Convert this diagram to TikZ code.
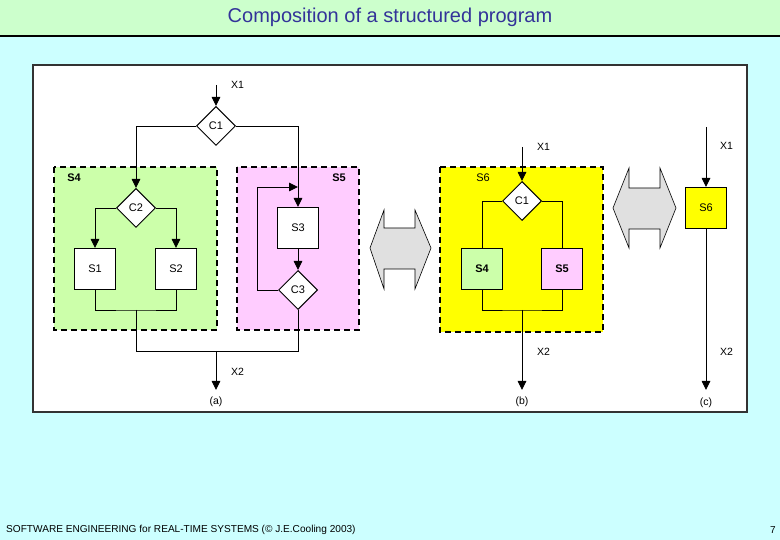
\documentclass[tikz,border=0pt]{standalone}
\usepackage{fontspec}
\setmainfont{Liberation Sans}
\usetikzlibrary{shapes.geometric,arrows.meta}
\definecolor{bandgreen}{RGB}{204,255,204}
\definecolor{bgcyan}{RGB}{204,255,255}
\definecolor{titleblue}{RGB}{51,51,153}
\definecolor{boxgreen}{RGB}{204,255,170}
\definecolor{boxpink}{RGB}{255,204,255}
\definecolor{boxyellow}{RGB}{255,255,0}
\definecolor{arrowgray}{RGB}{224,224,224}
\begin{document}
\begin{tikzpicture}[x=1pt,y=-1pt,
  proc/.style={draw,fill=white,line width=1pt,minimum size=41pt,inner sep=0pt,font=\fontsize{11}{13}\selectfont},
  dec/.style={draw,fill=white,diamond,line width=1pt,minimum size=39pt,inner sep=0pt,font=\fontsize{11}{13}\selectfont},
  region/.style={line width=1.3pt,dash pattern=on 6pt off 4pt},
  conn/.style={line width=0.9pt},
  arr/.style={conn,-{Triangle[length=9pt,width=8.5pt]}},
  lbl/.style={font=\fontsize{10.5}{12}\selectfont,inner sep=0pt},
  blk/.style={draw,fill=arrowgray,line width=0.6pt,line join=miter}
]
\useasboundingbox (0,0) rectangle (780,540);
% background
\fill[bgcyan] (0,0) rectangle (780,540);
\fill[bandgreen] (0,0) rectangle (780,36);
\draw[line width=2pt] (0,36) -- (780,36);
\node[text=titleblue,font=\fontsize{20}{24}\selectfont] (title) at (390,17.5) {Composition of a structured program};
\draw[line width=1.5pt,draw=black!80,fill=white] (33,65) rectangle (747,412);
% footer
\node[anchor=west,font=\fontsize{10.1}{11}\selectfont,inner sep=0pt] (foot) at (6,530) {SOFTWARE ENGINEERING for REAL-TIME SYSTEMS (\textcopyright{} J.E.Cooling 2003)};
\node[anchor=east,font=\fontsize{10}{11}\selectfont,inner sep=0pt] (pg) at (776,530) {7};

% ---------------- (a) ----------------
\draw[region,fill=boxgreen] (54,167) rectangle (217,330);
\draw[region,fill=boxpink] (237,167) rectangle (359,330);
\node[lbl,font=\fontsize{11}{13}\selectfont\bfseries] (lS4) at (74,178) {S4};
\node[lbl,font=\fontsize{11}{13}\selectfont\bfseries] (lS5) at (339,178) {S5};

\node[dec] (C1) at (216,126) {C1};
\node[dec] (C2) at (136,208) {C2};
\node[proc] (S1) at (95,269) {S1};
\node[proc] (S2) at (176,269) {S2};
\node[proc] (S3) at (298,228) {S3};
\node[dec] (C3) at (298,290) {C3};

\coordinate (x1a) at (216,85);
\coordinate (ja) at (136,310);
\coordinate (jb) at (136,351);
\coordinate (jc) at (216,351);
\coordinate (enda) at (216,390);
\coordinate (lp) at (257,187);

\draw[arr] (x1a) -- (C1.north);
\draw[arr] (C1.west) -| (C2.north);
\draw[arr] (C1.east) -| (S3.north);
\draw[arr] (C2.west) -| (S1.north);
\draw[arr] (C2.east) -| (S2.north);
\draw[conn] (S1.south) |- (ja) -| (S2.south);
\draw[conn] (ja) -- (jb) -| (C3.south);
\draw[arr] (S3.south) -- (C3.north);
\draw[arr] (C3.west) -| (lp) -- (lp -| S3.north);
\draw[arr] (jc) -- (enda);

\node[lbl,anchor=west] (ax1) at (231,85) {X1};
\node[lbl,anchor=west] (ax2) at (231,372) {X2};
\node[lbl] (la) at (216,402) {(a)};

% block arrow 1
\draw[blk] (370,248) -- (384,210) -- (384,228) -- (415,228) -- (415,210) -- (431,248)
  -- (415,289) -- (415,269) -- (384,269) -- (384,289) -- cycle;

% ---------------- (b) ----------------
\draw[region,fill=boxyellow] (440,167) rectangle (603,332);
\node[lbl,font=\fontsize{11}{13}\selectfont] (lS6) at (483,178) {S6};
\node[dec] (C1b) at (522,201) {C1};
\node[proc,fill=boxgreen,font=\fontsize{11}{13}\selectfont\bfseries] (S4b) at (482,269) {S4};
\node[proc,fill=boxpink,font=\fontsize{11}{13}\selectfont\bfseries] (S5b) at (562,269) {S5};
\coordinate (x1b) at (522,147);
\coordinate (jd) at (522,310);
\coordinate (endb) at (522,390);
\draw[arr] (x1b) -- (C1b.north);
\draw[conn] (C1b.west) -| (S4b.north);
\draw[conn] (C1b.east) -| (S5b.north);
\draw[conn] (S4b.south) |- (jd) -| (S5b.south);
\draw[arr] (jd) -- (endb);
\node[lbl,anchor=west] (bx1) at (537,147) {X1};
\node[lbl,anchor=west] (bx2) at (537,352) {X2};
\node[lbl] (lb) at (522,402) {(b)};

% block arrow 2
\draw[blk] (613,208) -- (629,168) -- (629,188) -- (660,188) -- (660,168) -- (676,208)
  -- (660,248) -- (660,229) -- (629,229) -- (629,248) -- cycle;

% ---------------- (c) ----------------
\node[proc,fill=boxyellow] (S6c) at (706,208) {S6};
\coordinate (x1c) at (706,127);
\coordinate (endc) at (706,390);
\draw[arr] (x1c) -- (S6c.north);
\draw[arr] (S6c.south) -- (endc);
\node[lbl,anchor=west] (cx1) at (720,146) {X1};
\node[lbl,anchor=west] (cx2) at (720,352) {X2};
\node[lbl] (lc) at (706,403) {(c)};
\end{tikzpicture}
\end{document}
